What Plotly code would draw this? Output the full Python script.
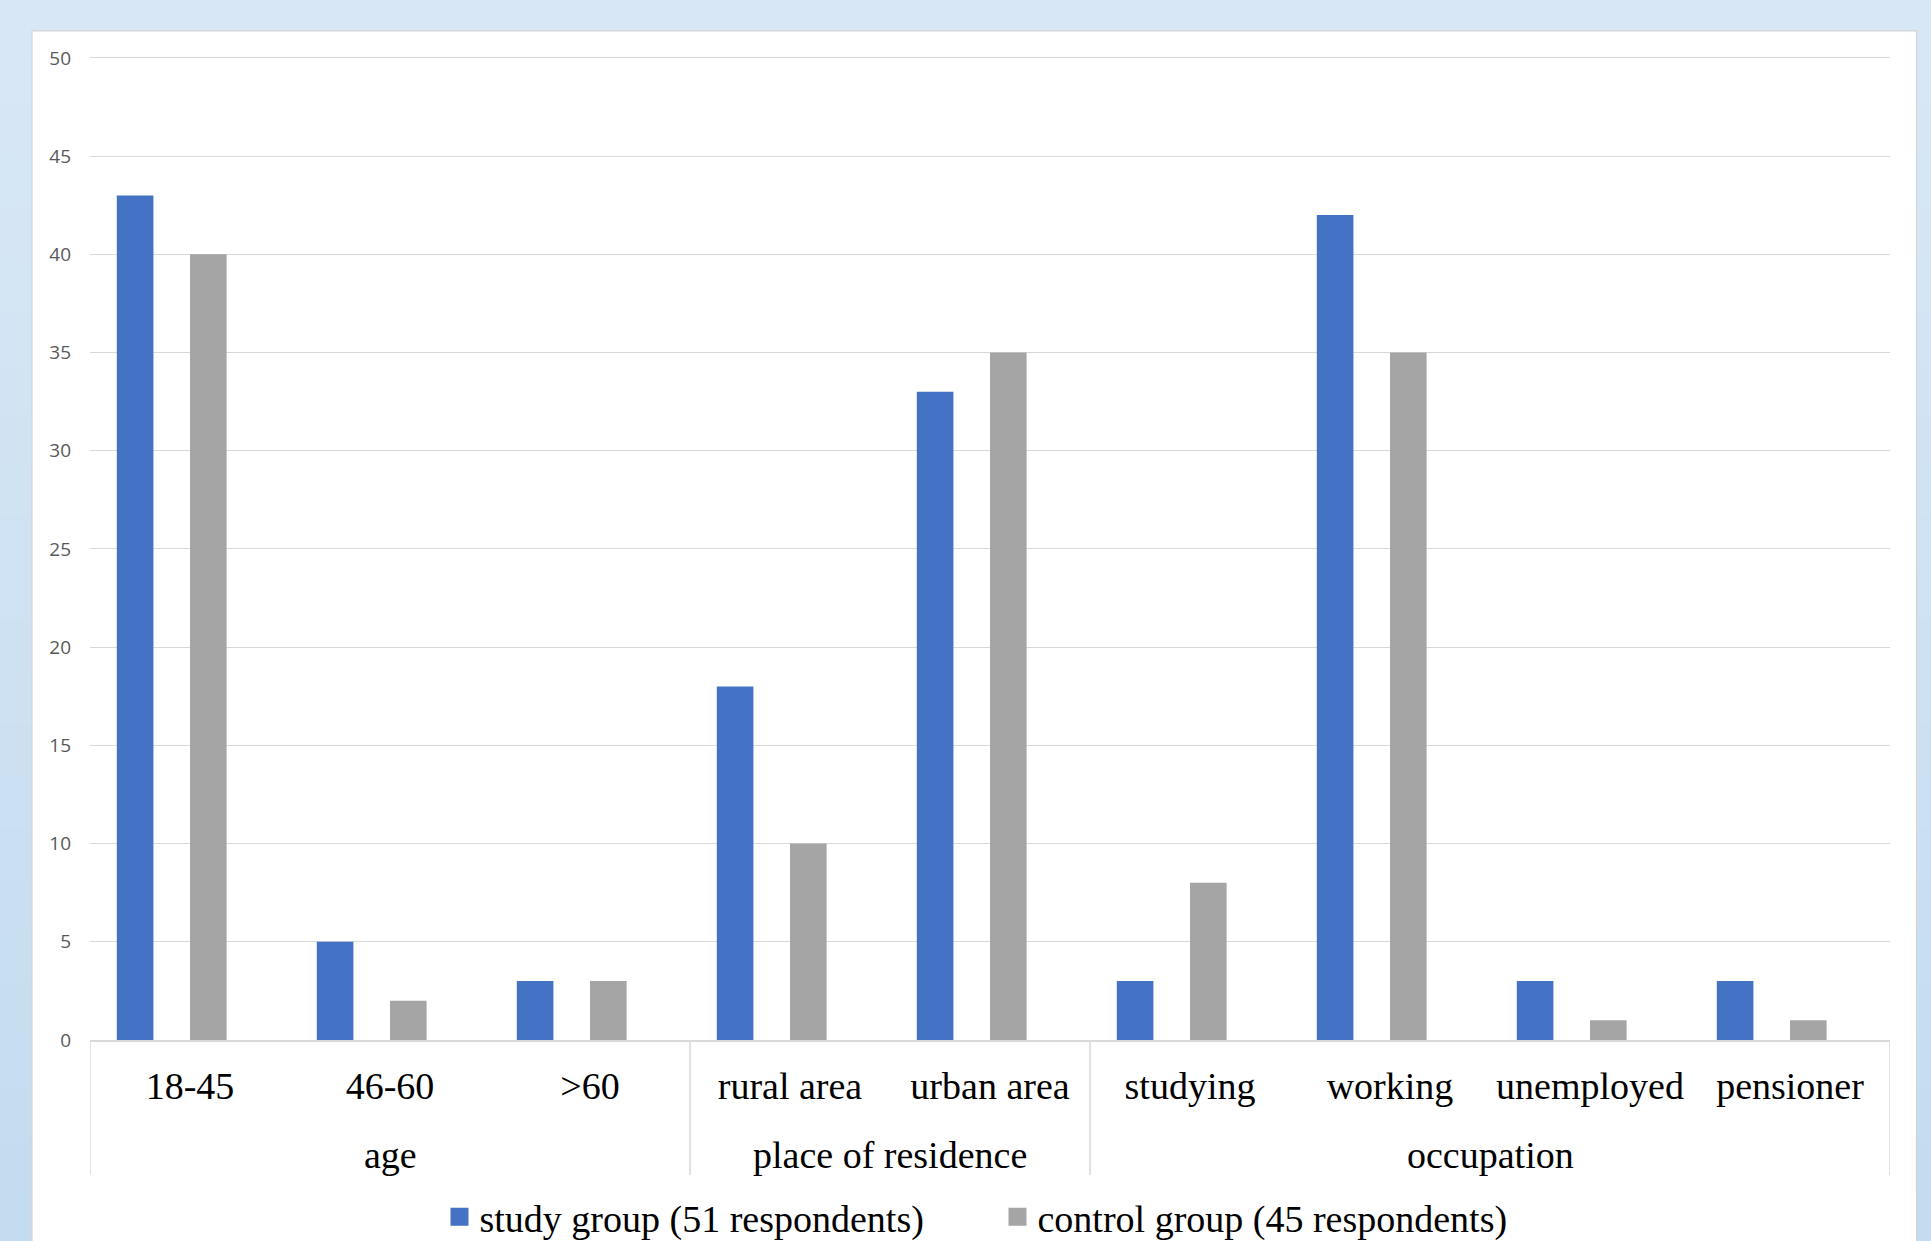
import plotly.graph_objects as go

# ---- data ----
categories = ["18-45", "46-60", ">60", "rural area", "urban area",
              "studying", "working", "unemployed", "pensioner"]
groups = ["age", "age", "age", "place of residence", "place of residence",
          "occupation", "occupation", "occupation", "occupation"]
study_group = [43, 5, 3, 18, 33, 3, 42, 3, 3]
control_group = [40, 2, 3, 10, 35, 8, 35, 1, 1]
series_names = ["study group (51 respondents)", "control group (45 respondents)"]
y_ticks = [0, 5, 10, 15, 20, 25, 30, 35, 40, 45, 50]

# ---- geometry / style ----
W, H = 1931, 1241
Y_MAX = 50.3
L, R, B = 90, 41, 201
T = 1040 - Y_MAX * (982 / 50)   # keeps 50 at the same pixel row
plot_h = H - T - B
plot_w = W - L - R

def py(px):  # pixel y -> paper y
    return (H - B - px) / plot_h

def pxx(px):  # pixel x -> paper x
    return (px - L) / plot_w

BLUE = "#4472C4"
GRAY = "#A5A5A5"
GRID = "#D9D9D9"
SERIF = "Liberation Serif"
colors = [BLUE, GRAY]

fig = go.Figure()
fig.add_trace(go.Bar(x=categories, y=study_group, name=series_names[0],
                     marker=dict(color=BLUE, line=dict(width=0)),
                     offset=-0.366, width=0.183, showlegend=False))
fig.add_trace(go.Bar(x=categories, y=control_group, name=series_names[1],
                     marker=dict(color=GRAY, line=dict(width=0)),
                     offset=0.0, width=0.183, showlegend=False))
# legend-only entries (square keys like the reference)
for nm, c in zip(series_names, colors):
    fig.add_trace(go.Scatter(x=[None], y=[None], mode="markers", name=nm,
                             marker=dict(symbol="square", size=16, color=c,
                                         line=dict(color=c, width=2))))

shapes = []
# background gradient bands (light blue)
top_c = (216, 231, 245)
bot_c = (196, 220, 240)
nb = 24
for i in range(nb):
    f = i / (nb - 1)
    c = tuple(round(top_c[k] + (bot_c[k] - top_c[k]) * f) for k in range(3))
    y_top = H * i / nb
    y_bot = H * (i + 1) / nb + 1
    shapes.append(dict(type="rect", xref="paper", yref="paper", layer="below",
                       x0=pxx(-2), x1=pxx(W + 2), y0=py(y_bot), y1=py(y_top),
                       fillcolor="rgb(%d,%d,%d)" % c, line=dict(width=0)))
# white chart panel
shapes.append(dict(type="rect", xref="paper", yref="paper", layer="below",
                   x0=pxx(32), x1=pxx(1916.5), y0=py(H + 10), y1=py(31),
                   fillcolor="white", line=dict(color="#D4D4D4", width=1.2)))

# group dividers at group boundaries (derived from the group list)
bounds = [-0.5]
for i in range(1, len(groups)):
    if groups[i] != groups[i - 1]:
        bounds.append(i - 0.5)
bounds.append(len(groups) - 0.5)
for b in bounds:
    shapes.append(dict(type="line", xref="x", yref="paper", layer="above",
                       x0=b, x1=b, y0=0, y1=py(1175),
                       line=dict(color=GRID, width=1.5)))

# group labels centred under their categories
annotations = []
seen = []
for g in groups:
    if g not in seen:
        seen.append(g)
for g in seen:
    idx = [i for i, gg in enumerate(groups) if gg == g]
    annotations.append(dict(text=g, xref="x", yref="paper",
                            x=sum(idx) / len(idx), y=py(1154.5),
                            xanchor="center", yanchor="middle", showarrow=False,
                            font=dict(family=SERIF, size=38, color="#000000")))

fig.update_layout(
    width=W, height=H,
    margin=dict(l=L, r=R, t=T, b=B, autoexpand=False),
    paper_bgcolor="#D3E4F4",
    plot_bgcolor="rgba(0,0,0,0)",
    barmode="group",
    shapes=shapes,
    annotations=annotations,
    showlegend=True,
    legend=dict(orientation="h", xanchor="left", yanchor="middle",
                x=pxx(459.5 - 20), y=py(1217),
                entrywidth=513, entrywidthmode="pixels",
                itemsizing="trace",
                font=dict(family=SERIF, size=38, color="#000000"),
                bgcolor="rgba(0,0,0,0)", traceorder="normal"),
    xaxis=dict(type="category", range=[-0.5, len(categories) - 0.5],
               showgrid=False, zeroline=False,
               showline=True, linecolor=GRID, linewidth=1.5,
               ticks="", ticklabelstandoff=12,
               tickfont=dict(family=SERIF, size=38, color="#000000")),
    yaxis=dict(range=[0, Y_MAX], tickvals=y_ticks,
               showgrid=True, gridcolor=GRID, gridwidth=1.3,
               zeroline=False, showline=False, ticks="",
               ticklabelstandoff=18,
               tickfont=dict(family="Open Sans", size=19, color="#595959")),
    hovermode=False,
)

fig.write_html("out.html")
